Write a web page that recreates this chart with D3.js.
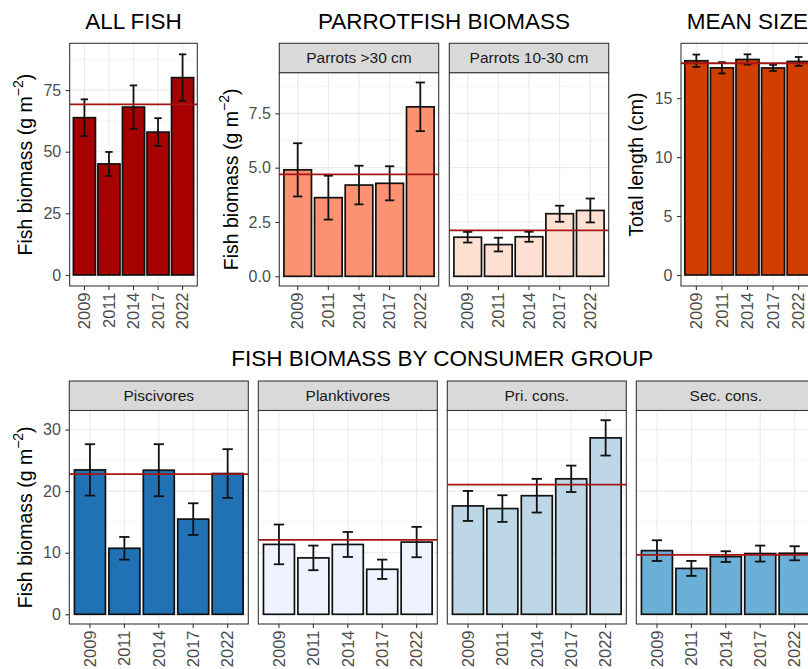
<!DOCTYPE html>
<html>
<head>
<meta charset="utf-8">
<script src="https://cdn.jsdelivr.net/npm/d3@7"></script>
<style>
  html, body { margin: 0; padding: 0; background: #fff; }
  svg { display: block; }
</style>
</head>
<body>
<script>
// ---- data -------------------------------------------------------------
const years = ["2009", "2011", "2014", "2017", "2022"];

// all fish biomass (g m^-2): mean and standard error per survey year
const allFish      = [63.8, 45.05, 68.1, 57.95, 80.05];
const allFishSE    = [7.45, 4.85, 8.8, 5.65, 9.45];
const allFishMean  = 69.2;

// parrotfish biomass by size class
const parrotsLarge     = [4.9, 3.62, 4.2, 4.28, 7.8];
const parrotsLargeSE   = [1.225, 1.01, 0.89, 0.785, 1.12];
const parrotsLargeMean = 4.69;
const parrotsSmall     = [1.8, 1.46, 1.82, 2.88, 3.03];
const parrotsSmallSE   = [0.245, 0.315, 0.23, 0.37, 0.55];
const parrotsSmallMean = 2.11;

// mean total length (cm)
const meanSize     = [18.17, 17.57, 18.28, 17.56, 18.11];
const meanSizeSE   = [0.525, 0.48, 0.435, 0.255, 0.38];
const meanSizeMean = 17.96;

// biomass by consumer group
const piscivores      = [23.45, 10.72, 23.4, 15.46, 22.86];
const piscivoresSE    = [4.17, 1.84, 4.225, 2.57, 3.955];
const piscivoresMean  = 22.75;
const planktivores    = [11.35, 9.16, 11.34, 7.31, 11.73];
const planktivoresSE  = [3.225, 2.0, 2.03, 1.57, 2.465];
const planktivoresMean = 12.08;
const priCons         = [17.6, 17.17, 19.26, 22.0, 28.65];
const priConsSE       = [2.44, 2.165, 2.735, 2.145, 2.87];
const priConsMean     = 21.07;
const secCons         = [10.34, 7.45, 9.37, 9.86, 9.91];
const secConsSE       = [1.68, 1.215, 0.87, 1.3, 1.14];
const secConsMean     = 9.64;

// axis ticks
const allFishTicks   = [0, 25, 50, 75];
const parrotTicks    = [0, 2.5, 5, 7.5];
const sizeTicks      = [0, 5, 10, 15];
const consumerTicks  = [0, 10, 20, 30];

// ---- styling ----------------------------------------------------------
const FONT = "'Liberation Sans', Arial, Helvetica, sans-serif";
const W = 808, H = 669;
const STRIP_H = 29.5;
const TICK_LEN = 4;
const TICK_FONT = 16;
const YEAR_FONT = 16.5;

const svg = d3.select("body").append("svg")
  .attr("width", W).attr("height", H)
  .attr("viewBox", `0 0 ${W} ${H}`)
  .style("font-family", FONT);

svg.append("rect").attr("width", W).attr("height", H).attr("fill", "#fff");

// y-domain like ggplot: from 0 to the highest error-bar top, padded by 5%
function paddedDomain(series) {
  const hi = d3.max(series.flatMap(s => s.vals.map((v, i) => v + s.errs[i])));
  const pad = hi * 0.05;
  return [-pad, hi + pad];
}

function minorTicks(ticks, domain) {
  const step = ticks[1] - ticks[0];
  const out = [];
  for (let t = ticks[0] - step / 2; t <= domain[1]; t += step) {
    if (t >= domain[0]) out.push(t);
  }
  return out;
}

function drawPanel(o) {
  const g = svg.append("g");
  const pTop = o.strip ? o.top + STRIP_H : o.top;

  const x = d3.scaleBand().domain(years)
    .range([o.left, o.right]).paddingInner(0.1).paddingOuter(0.15);
  const y = d3.scaleLinear().domain(o.domain).range([o.bottom, pTop]);

  // strip
  if (o.strip) {
    g.append("rect")
      .attr("x", o.left).attr("y", o.top)
      .attr("width", o.right - o.left).attr("height", STRIP_H)
      .attr("fill", "#D9D9D9").attr("stroke", "#333333").attr("stroke-width", 1.07);
    g.append("text")
      .attr("x", (o.left + o.right) / 2).attr("y", o.top + STRIP_H / 2)
      .attr("dy", "0.35em").attr("text-anchor", "middle")
      .attr("font-size", 15.5).attr("fill", "#1A1A1A")
      .text(o.strip);
  }

  // panel background and grid
  g.append("rect")
    .attr("x", o.left).attr("y", pTop)
    .attr("width", o.right - o.left).attr("height", o.bottom - pTop)
    .attr("fill", "#fff");

  const grid = g.append("g").attr("stroke", "#EBEBEB");
  grid.selectAll("line.minor").data(minorTicks(o.ticks, o.domain)).join("line")
    .attr("x1", o.left).attr("x2", o.right)
    .attr("y1", d => y(d)).attr("y2", d => y(d))
    .attr("stroke-width", 0.55);
  grid.selectAll("line.major").data(o.ticks).join("line")
    .attr("x1", o.left).attr("x2", o.right)
    .attr("y1", d => y(d)).attr("y2", d => y(d))
    .attr("stroke-width", 1.1);
  grid.selectAll("line.vmajor").data(years).join("line")
    .attr("x1", d => x(d) + x.bandwidth() / 2).attr("x2", d => x(d) + x.bandwidth() / 2)
    .attr("y1", pTop).attr("y2", o.bottom)
    .attr("stroke-width", 1.1);

  // bars
  const rows = years.map((yr, i) => ({ yr, v: o.vals[i], e: o.errs[i] }));
  g.append("g").selectAll("rect").data(rows).join("rect")
    .attr("x", d => x(d.yr)).attr("width", x.bandwidth())
    .attr("y", d => y(d.v)).attr("height", d => y(0) - y(d.v))
    .attr("fill", o.fill).attr("stroke", "#111").attr("stroke-width", 1.7);

  // error bars
  const capW = x.step() * 0.3;
  const eb = g.append("g").attr("stroke", "#111").attr("stroke-width", 1.8).attr("fill", "none");
  rows.forEach(d => {
    const cx = x(d.yr) + x.bandwidth() / 2;
    const yHi = y(d.v + d.e), yLo = y(d.v - d.e);
    eb.append("line").attr("x1", cx).attr("x2", cx).attr("y1", yHi).attr("y2", yLo);
    eb.append("line").attr("x1", cx - capW / 2).attr("x2", cx + capW / 2).attr("y1", yHi).attr("y2", yHi);
    eb.append("line").attr("x1", cx - capW / 2).attr("x2", cx + capW / 2).attr("y1", yLo).attr("y2", yLo);
  });

  // long-term mean
  g.append("line")
    .attr("x1", o.left).attr("x2", o.right)
    .attr("y1", y(o.mean)).attr("y2", y(o.mean))
    .attr("stroke", "#A51515").attr("stroke-width", 1.8);

  // panel border
  g.append("rect")
    .attr("x", o.left).attr("y", pTop)
    .attr("width", o.right - o.left).attr("height", o.bottom - pTop)
    .attr("fill", "none").attr("stroke", "#333333").attr("stroke-width", 1.07);

  // x axis (rotated year labels)
  const xa = g.append("g").attr("transform", `translate(0,${o.bottom})`)
    .call(d3.axisBottom(x).tickSize(TICK_LEN).tickSizeOuter(0));
  xa.select(".domain").remove();
  xa.selectAll(".tick line").attr("stroke", "#333333").attr("stroke-width", 1.07);
  xa.selectAll(".tick text")
    .attr("transform", "rotate(-90)")
    .attr("text-anchor", "end")
    .attr("x", -(TICK_LEN + 2.5)).attr("y", 0).attr("dy", "0.35em")
    .attr("font-size", YEAR_FONT).attr("font-family", FONT).attr("fill", "#4D4D4D");

  // y axis (only on the leftmost panel of a facet row)
  if (o.showY) {
    const ya = g.append("g").attr("transform", `translate(${o.left},0)`)
      .call(d3.axisLeft(y).tickValues(o.ticks).tickSize(TICK_LEN).tickPadding(4.5)
        .tickFormat(o.fmt || d3.format("")));
    ya.select(".domain").remove();
    ya.selectAll(".tick line").attr("stroke", "#333333").attr("stroke-width", 1.07);
    ya.selectAll(".tick text")
      .attr("font-size", TICK_FONT).attr("font-family", FONT).attr("fill", "#4D4D4D");
  }
  return { pTop };
}

function yTitle(xBase, yCenter, kind) {
  const t = svg.append("text")
    .attr("transform", `translate(${xBase},${yCenter}) rotate(-90)`)
    .attr("text-anchor", "middle")
    .attr("font-size", 19.5).attr("fill", "#000");
  if (kind === "biomass") {
    t.append("tspan").text("Fish biomass (g m");
    t.append("tspan").attr("font-size", 14).attr("dy", -8.5).text("\u22122");
    t.append("tspan").attr("dy", 8.5).text(")");
  } else {
    t.text(kind);
  }
}

function title(cx, baseline, label) {
  svg.append("text")
    .attr("x", cx).attr("y", baseline)
    .attr("text-anchor", "middle")
    .attr("font-size", 22.5).attr("fill", "#000")
    .text(label);
}

// ---- top row ------------------------------------------------------------
const ROW1_TOP = 43.3, ROW1_BOTTOM = 286;

// all fish
const allDomain = paddedDomain([{ vals: allFish, errs: allFishSE }]);
drawPanel({ left: 69.7, right: 197.3, top: ROW1_TOP, bottom: ROW1_BOTTOM,
  vals: allFish, errs: allFishSE, mean: allFishMean, fill: "#A60000",
  domain: allDomain, ticks: allFishTicks, showY: true });
title((69.7 + 197.3) / 2, 29, "ALL FISH");
yTitle(31.5, (ROW1_TOP + ROW1_BOTTOM) / 2, "biomass");

// parrotfish
const parrotDomain = paddedDomain([
  { vals: parrotsLarge, errs: parrotsLargeSE },
  { vals: parrotsSmall, errs: parrotsSmallSE }]);
drawPanel({ left: 279.3, right: 438.7, top: ROW1_TOP, bottom: ROW1_BOTTOM, strip: "Parrots >30 cm",
  vals: parrotsLarge, errs: parrotsLargeSE, mean: parrotsLargeMean, fill: "#FC9272",
  domain: parrotDomain, ticks: parrotTicks, showY: true, fmt: d3.format(".1f") });
drawPanel({ left: 449.3, right: 608.7, top: ROW1_TOP, bottom: ROW1_BOTTOM, strip: "Parrots 10-30 cm",
  vals: parrotsSmall, errs: parrotsSmallSE, mean: parrotsSmallMean, fill: "#FEE0D2",
  domain: parrotDomain, ticks: parrotTicks, showY: false });
title((279.3 + 608.7) / 2, 29, "PARROTFISH BIOMASS");
yTitle(237.5, (ROW1_TOP + STRIP_H + ROW1_BOTTOM) / 2, "biomass");

// mean size
const sizeDomain = paddedDomain([{ vals: meanSize, errs: meanSizeSE }]);
drawPanel({ left: 681, right: 814, top: ROW1_TOP, bottom: ROW1_BOTTOM,
  vals: meanSize, errs: meanSizeSE, mean: meanSizeMean, fill: "#D03E00",
  domain: sizeDomain, ticks: sizeTicks, showY: true });
title((681 + 814) / 2, 29, "MEAN SIZE");
yTitle(643, (ROW1_TOP + ROW1_BOTTOM) / 2, "Total length (cm)");

// ---- bottom row ---------------------------------------------------------
const ROW2_TOP = 381, ROW2_BOTTOM = 624;
const consumerGroups = [
  { strip: "Piscivores",   vals: piscivores,   errs: piscivoresSE,   mean: piscivoresMean,   fill: "#2171B5" },
  { strip: "Planktivores", vals: planktivores, errs: planktivoresSE, mean: planktivoresMean, fill: "#EFF3FF" },
  { strip: "Pri. cons.",   vals: priCons,      errs: priConsSE,      mean: priConsMean,      fill: "#BDD7E7" },
  { strip: "Sec. cons.",   vals: secCons,      errs: secConsSE,      mean: secConsMean,      fill: "#6BAED6" }
];
const consumerDomain = paddedDomain(consumerGroups);
const PANEL_W = 179, GAP = 10, ROW2_LEFT = 69.3;
consumerGroups.forEach((grp, i) => {
  const left = ROW2_LEFT + i * (PANEL_W + GAP);
  drawPanel({ left, right: left + PANEL_W, top: ROW2_TOP, bottom: ROW2_BOTTOM, strip: grp.strip,
    vals: grp.vals, errs: grp.errs, mean: grp.mean, fill: grp.fill,
    domain: consumerDomain, ticks: consumerTicks, showY: i === 0 });
});
title((ROW2_LEFT + ROW2_LEFT + 4 * PANEL_W + 3 * GAP) / 2, 366, "FISH BIOMASS BY CONSUMER GROUP");
yTitle(31.5, (ROW2_TOP + STRIP_H + ROW2_BOTTOM) / 2, "biomass");
</script>
</body>
</html>
